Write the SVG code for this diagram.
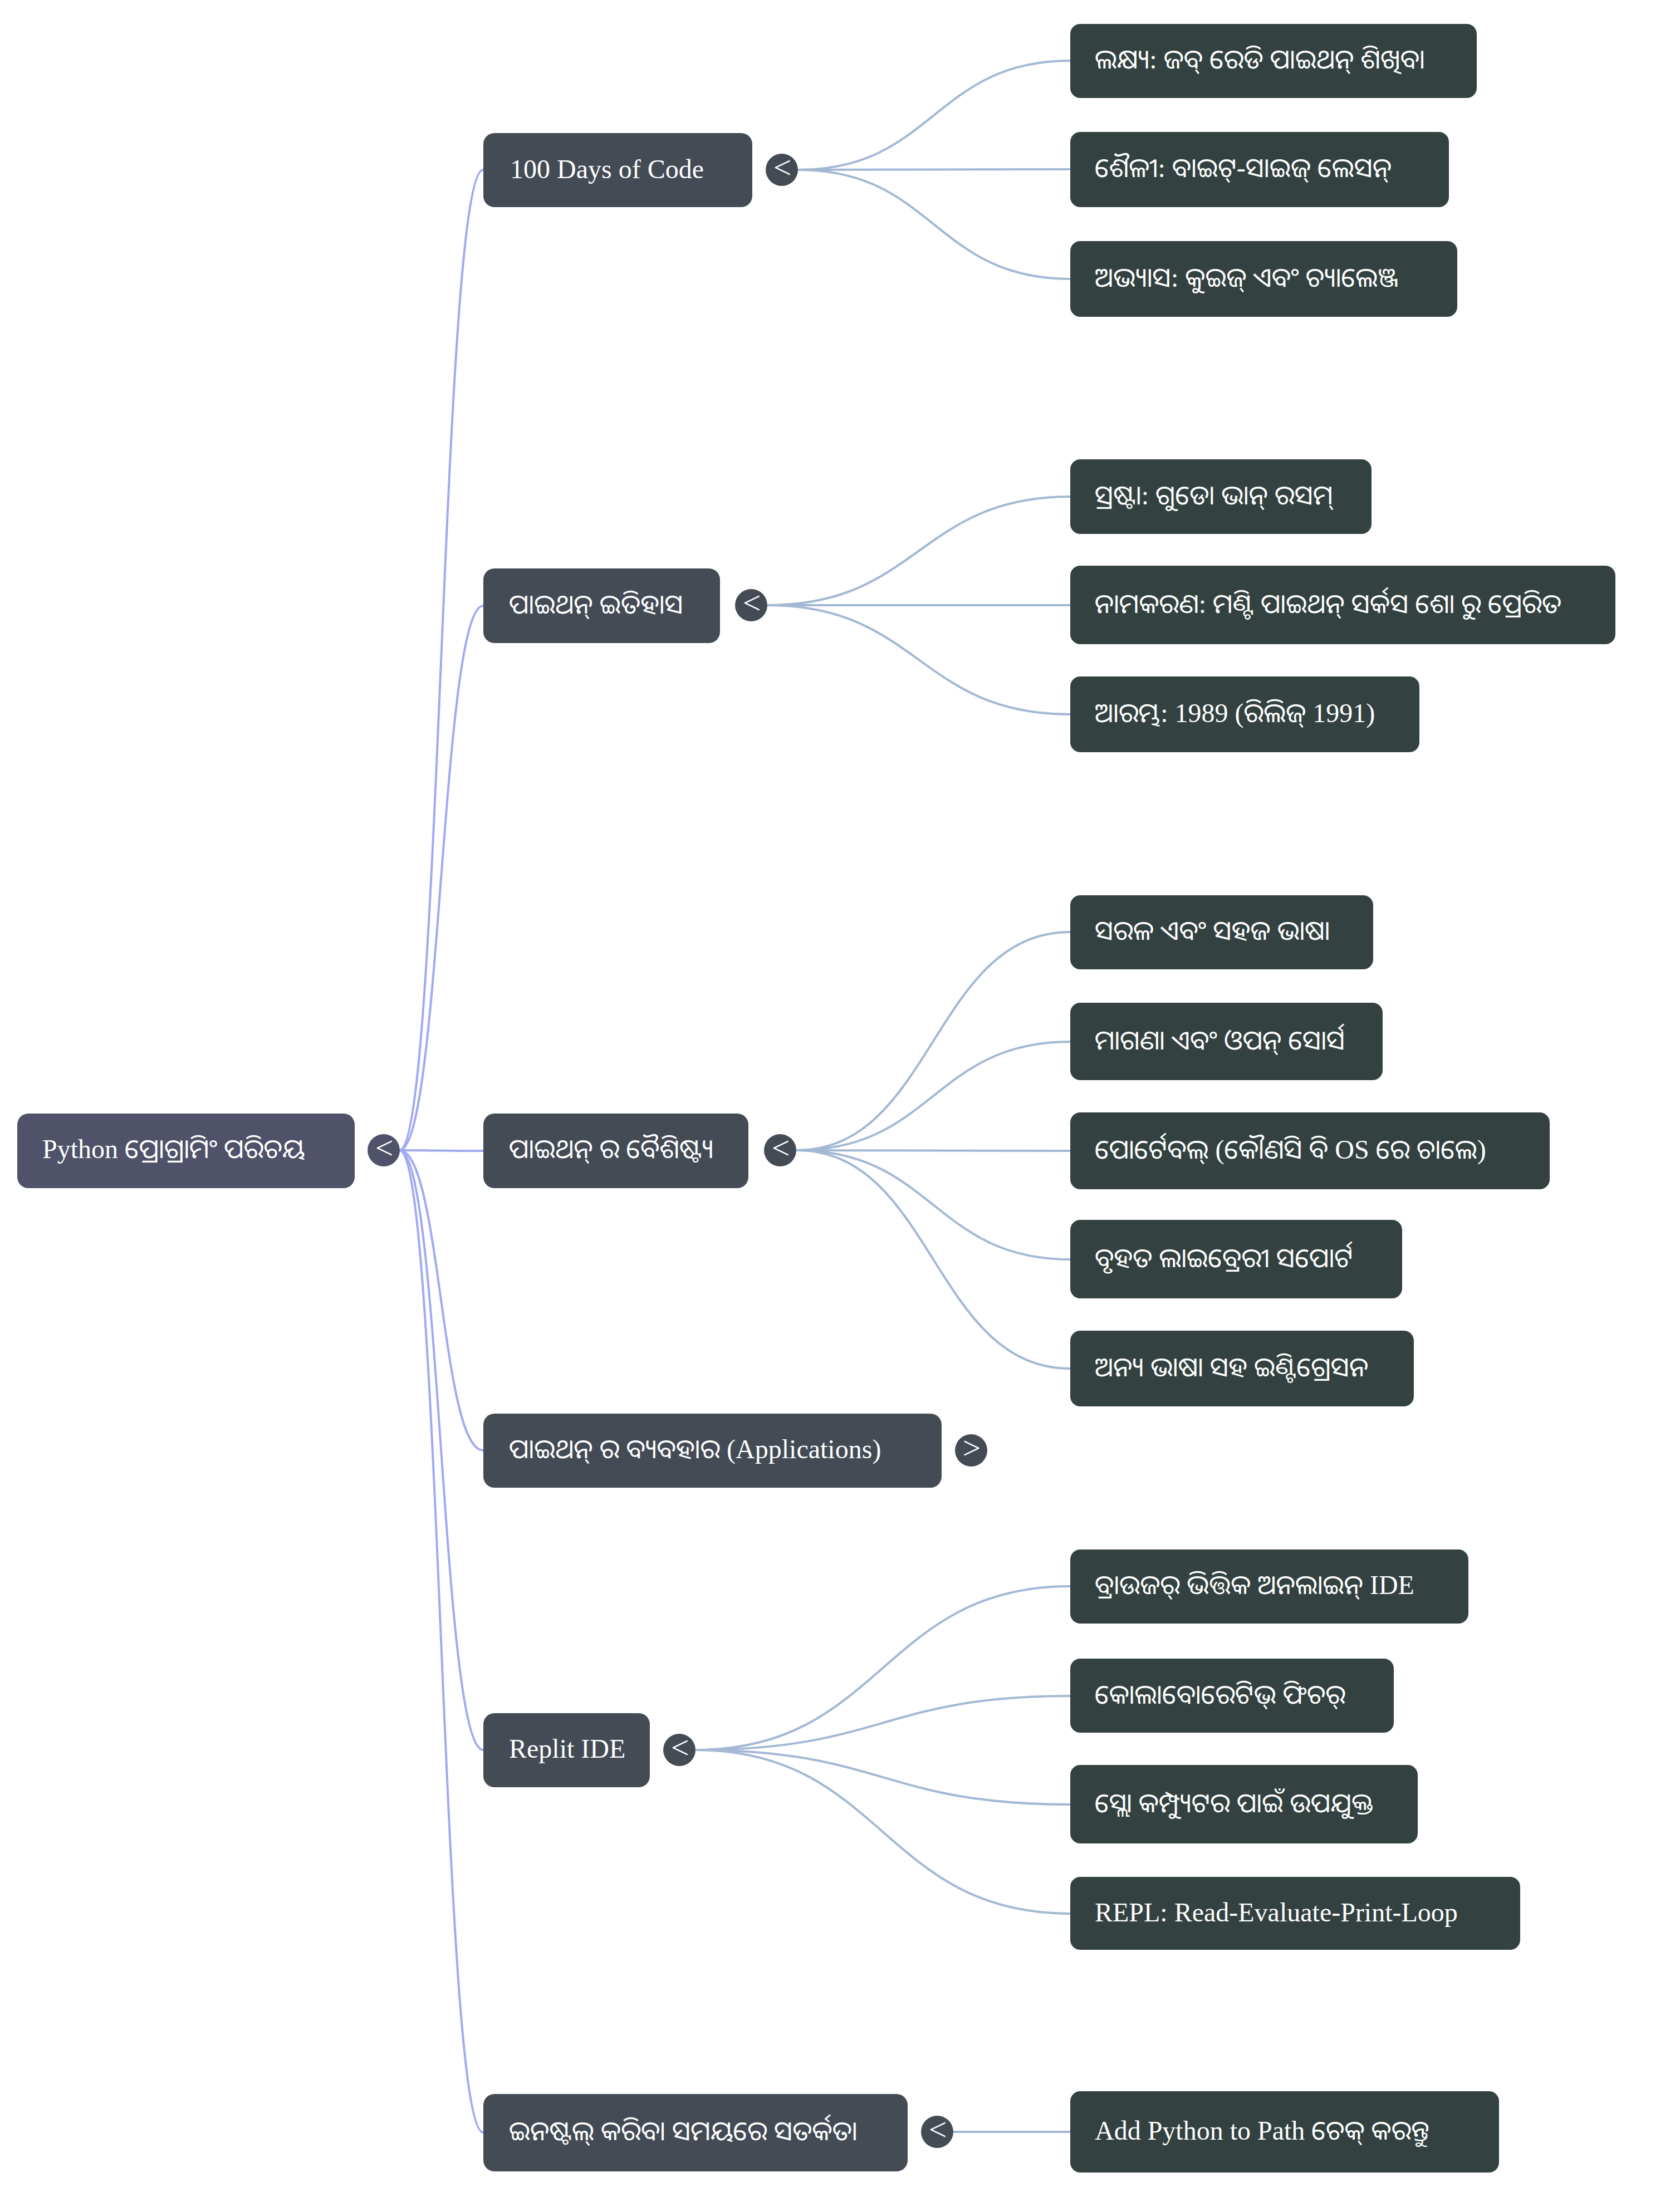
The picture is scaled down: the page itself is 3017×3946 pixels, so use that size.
<svg xmlns="http://www.w3.org/2000/svg" width="3017" height="3946" viewBox="0 0 3017 3946">
<style>
.t{font-family:"Liberation Serif","Noto Sans Oriya","Noto Serif Oriya","Lohit Odia",serif;font-size:48px;fill:#ffffff}
.root rect,.root circle{fill:#4f5268}
.l1 rect,.l1 circle{fill:#444b55}
.leaf rect{fill:#334240}
.tg{font-family:"Liberation Serif",serif;font-size:58px;fill:#ffffff;text-anchor:middle}
.e0{fill:none;stroke:#a0a9f2;stroke-width:4}
.e1{fill:none;stroke:#a3b8d4;stroke-width:4}
</style>
<rect width="3017" height="3946" fill="#ffffff"/>
<g id="connectors">
<path class="e0" d="M717,2066 C792,2066 792,305 868,305"/>
<path class="e0" d="M717,2066 C792,2066 792,1088 868,1088"/>
<path class="e0" d="M717,2066 C792,2066 792,2067 868,2067"/>
<path class="e0" d="M717,2066 C792,2066 792,2605 868,2605"/>
<path class="e0" d="M717,2066 C792,2066 792,3143 868,3143"/>
<path class="e0" d="M717,2066 C792,2066 792,3830 868,3830"/>
<path class="e1" d="M1433,305 C1677,305 1677,109 1922,109"/>
<path class="e1" d="M1433,305 C1677,305 1677,304 1922,304"/>
<path class="e1" d="M1433,305 C1677,305 1677,501 1922,501"/>
<path class="e1" d="M1378,1087 C1650,1087 1650,892 1922,892"/>
<path class="e1" d="M1378,1087 C1650,1087 1650,1087 1922,1087"/>
<path class="e1" d="M1378,1087 C1650,1087 1650,1283 1922,1283"/>
<path class="e1" d="M1430,2066 C1676,2066 1676,1674 1922,1674"/>
<path class="e1" d="M1430,2066 C1676,2066 1676,1871 1922,1871"/>
<path class="e1" d="M1430,2066 C1676,2066 1676,2067 1922,2067"/>
<path class="e1" d="M1430,2066 C1676,2066 1676,2262 1922,2262"/>
<path class="e1" d="M1430,2066 C1676,2066 1676,2458 1922,2458"/>
<path class="e1" d="M1249,3143 C1585,3143 1585,2849 1922,2849"/>
<path class="e1" d="M1249,3143 C1585,3143 1585,3046 1922,3046"/>
<path class="e1" d="M1249,3143 C1585,3143 1585,3241 1922,3241"/>
<path class="e1" d="M1249,3143 C1585,3143 1585,3437 1922,3437"/>
<path class="e1" d="M1712,3829 C1817,3829 1817,3829 1922,3829"/>
</g>
<g id="root" class="root">
<rect x="31" y="2000" width="606" height="134" rx="20"/>
<text class="t" x="76" y="2080">Python ପ୍ରୋଗ୍ରାମିଂ ପରିଚୟ</text>
<circle cx="689" cy="2066" r="29"/>
<text class="tg" x="690" y="2081">&lt;</text>
</g>
<g id="n1" class="l1">
<rect x="868" y="239" width="483" height="133" rx="20"/>
<text class="t" x="916" y="320">100 Days of Code</text>
<circle cx="1404" cy="305" r="29"/>
<text class="tg" x="1405" y="320">&lt;</text>
</g>
<g id="n2" class="l1">
<rect x="868" y="1021" width="425" height="134" rx="20"/>
<text class="t" x="914" y="1102">ପାଇଥନ୍ ଇତିହାସ</text>
<circle cx="1349" cy="1087" r="29"/>
<text class="tg" x="1350" y="1102">&lt;</text>
</g>
<g id="n3" class="l1">
<rect x="868" y="2000" width="476" height="134" rx="20"/>
<text class="t" x="914" y="2080">ପାଇଥନ୍ ର ବୈଶିଷ୍ଟ୍ୟ</text>
<circle cx="1401" cy="2066" r="29"/>
<text class="tg" x="1402" y="2081">&lt;</text>
</g>
<g id="n4" class="l1">
<rect x="868" y="2539" width="823" height="133" rx="20"/>
<text class="t" x="914" y="2619">ପାଇଥନ୍ ର ବ୍ୟବହାର (Applications)</text>
<circle cx="1744" cy="2605" r="29"/>
<text class="tg" x="1745" y="2620">&gt;</text>
</g>
<g id="n5" class="l1">
<rect x="868" y="3077" width="299" height="133" rx="20"/>
<text class="t" x="914" y="3157">Replit IDE</text>
<circle cx="1220" cy="3143" r="29"/>
<text class="tg" x="1221" y="3158">&lt;</text>
</g>
<g id="n6" class="l1">
<rect x="868" y="3761" width="762" height="139" rx="20"/>
<text class="t" x="914" y="3844">ଇନଷ୍ଟଲ୍ କରିବା ସମୟରେ ସତର୍କତା</text>
<circle cx="1683" cy="3829" r="29"/>
<text class="tg" x="1684" y="3844">&lt;</text>
</g>
<g id="l1a" class="leaf"><rect x="1922" y="43" width="730" height="133" rx="18"/><text class="t" x="1966" y="123">ଲକ୍ଷ୍ୟ: ଜବ୍ ରେଡି ପାଇଥନ୍ ଶିଖିବା</text></g>
<g id="l1b" class="leaf"><rect x="1922" y="237" width="680" height="135" rx="18"/><text class="t" x="1966" y="318">ଶୈଳୀ: ବାଇଟ୍-ସାଇଜ୍ ଲେସନ୍</text></g>
<g id="l1c" class="leaf"><rect x="1922" y="433" width="695" height="136" rx="18"/><text class="t" x="1966" y="515">ଅଭ୍ୟାସ: କୁଇଜ୍ ଏବଂ ଚ୍ୟାଲେଞ୍ଜ</text></g>
<g id="l2a" class="leaf"><rect x="1922" y="825" width="541" height="134" rx="18"/><text class="t" x="1966" y="906">ସ୍ରଷ୍ଟା: ଗୁଡୋ ଭାନ୍ ରସମ୍</text></g>
<g id="l2b" class="leaf"><rect x="1922" y="1016" width="979" height="141" rx="18"/><text class="t" x="1966" y="1101">ନାମକରଣ: ମଣ୍ଟି ପାଇଥନ୍ ସର୍କସ ଶୋ ରୁ ପ୍ରେରିତ</text></g>
<g id="l2c" class="leaf"><rect x="1922" y="1215" width="627" height="136" rx="18"/><text class="t" x="1966" y="1297">ଆରମ୍ଭ: 1989 (ରିଲିଜ୍ 1991)</text></g>
<g id="l3a" class="leaf"><rect x="1922" y="1608" width="544" height="133" rx="18"/><text class="t" x="1966" y="1688">ସରଳ ଏବଂ ସହଜ ଭାଷା</text></g>
<g id="l3b" class="leaf"><rect x="1922" y="1801" width="561" height="139" rx="18"/><text class="t" x="1966" y="1885">ମାଗଣା ଏବଂ ଓପନ୍ ସୋର୍ସ</text></g>
<g id="l3c" class="leaf"><rect x="1922" y="1998" width="861" height="138" rx="18"/><text class="t" x="1966" y="2081">ପୋର୍ଟେବଲ୍ (କୌଣସି ବି OS ରେ ଚାଲେ)</text></g>
<g id="l3d" class="leaf"><rect x="1922" y="2191" width="596" height="141" rx="18"/><text class="t" x="1966" y="2276">ବୃହତ ଲାଇବ୍ରେରୀ ସପୋର୍ଟ</text></g>
<g id="l3e" class="leaf"><rect x="1922" y="2390" width="617" height="136" rx="18"/><text class="t" x="1966" y="2472">ଅନ୍ୟ ଭାଷା ସହ ଇଣ୍ଟିଗ୍ରେସନ</text></g>
<g id="l5a" class="leaf"><rect x="1922" y="2783" width="715" height="133" rx="18"/><text class="t" x="1966" y="2863">ବ୍ରାଉଜର୍ ଭିତ୍ତିକ ଅନଲାଇନ୍ IDE</text></g>
<g id="l5b" class="leaf"><rect x="1922" y="2979" width="581" height="133" rx="18"/><text class="t" x="1966" y="3060">କୋଲାବୋରେଟିଭ୍ ଫିଚର୍</text></g>
<g id="l5c" class="leaf"><rect x="1922" y="3170" width="624" height="141" rx="18"/><text class="t" x="1966" y="3255">ସ୍ଲୋ କମ୍ପ୍ୟୁଟର ପାଇଁ ଉପଯୁକ୍ତ</text></g>
<g id="l5d" class="leaf"><rect x="1922" y="3371" width="808" height="131" rx="18"/><text class="t" x="1966" y="3451">REPL: Read-Evaluate-Print-Loop</text></g>
<g id="l6a" class="leaf"><rect x="1922" y="3756" width="770" height="146" rx="18"/><text class="t" x="1966" y="3843">Add Python to Path ଚେକ୍ କରନ୍ତୁ</text></g>
</svg>
